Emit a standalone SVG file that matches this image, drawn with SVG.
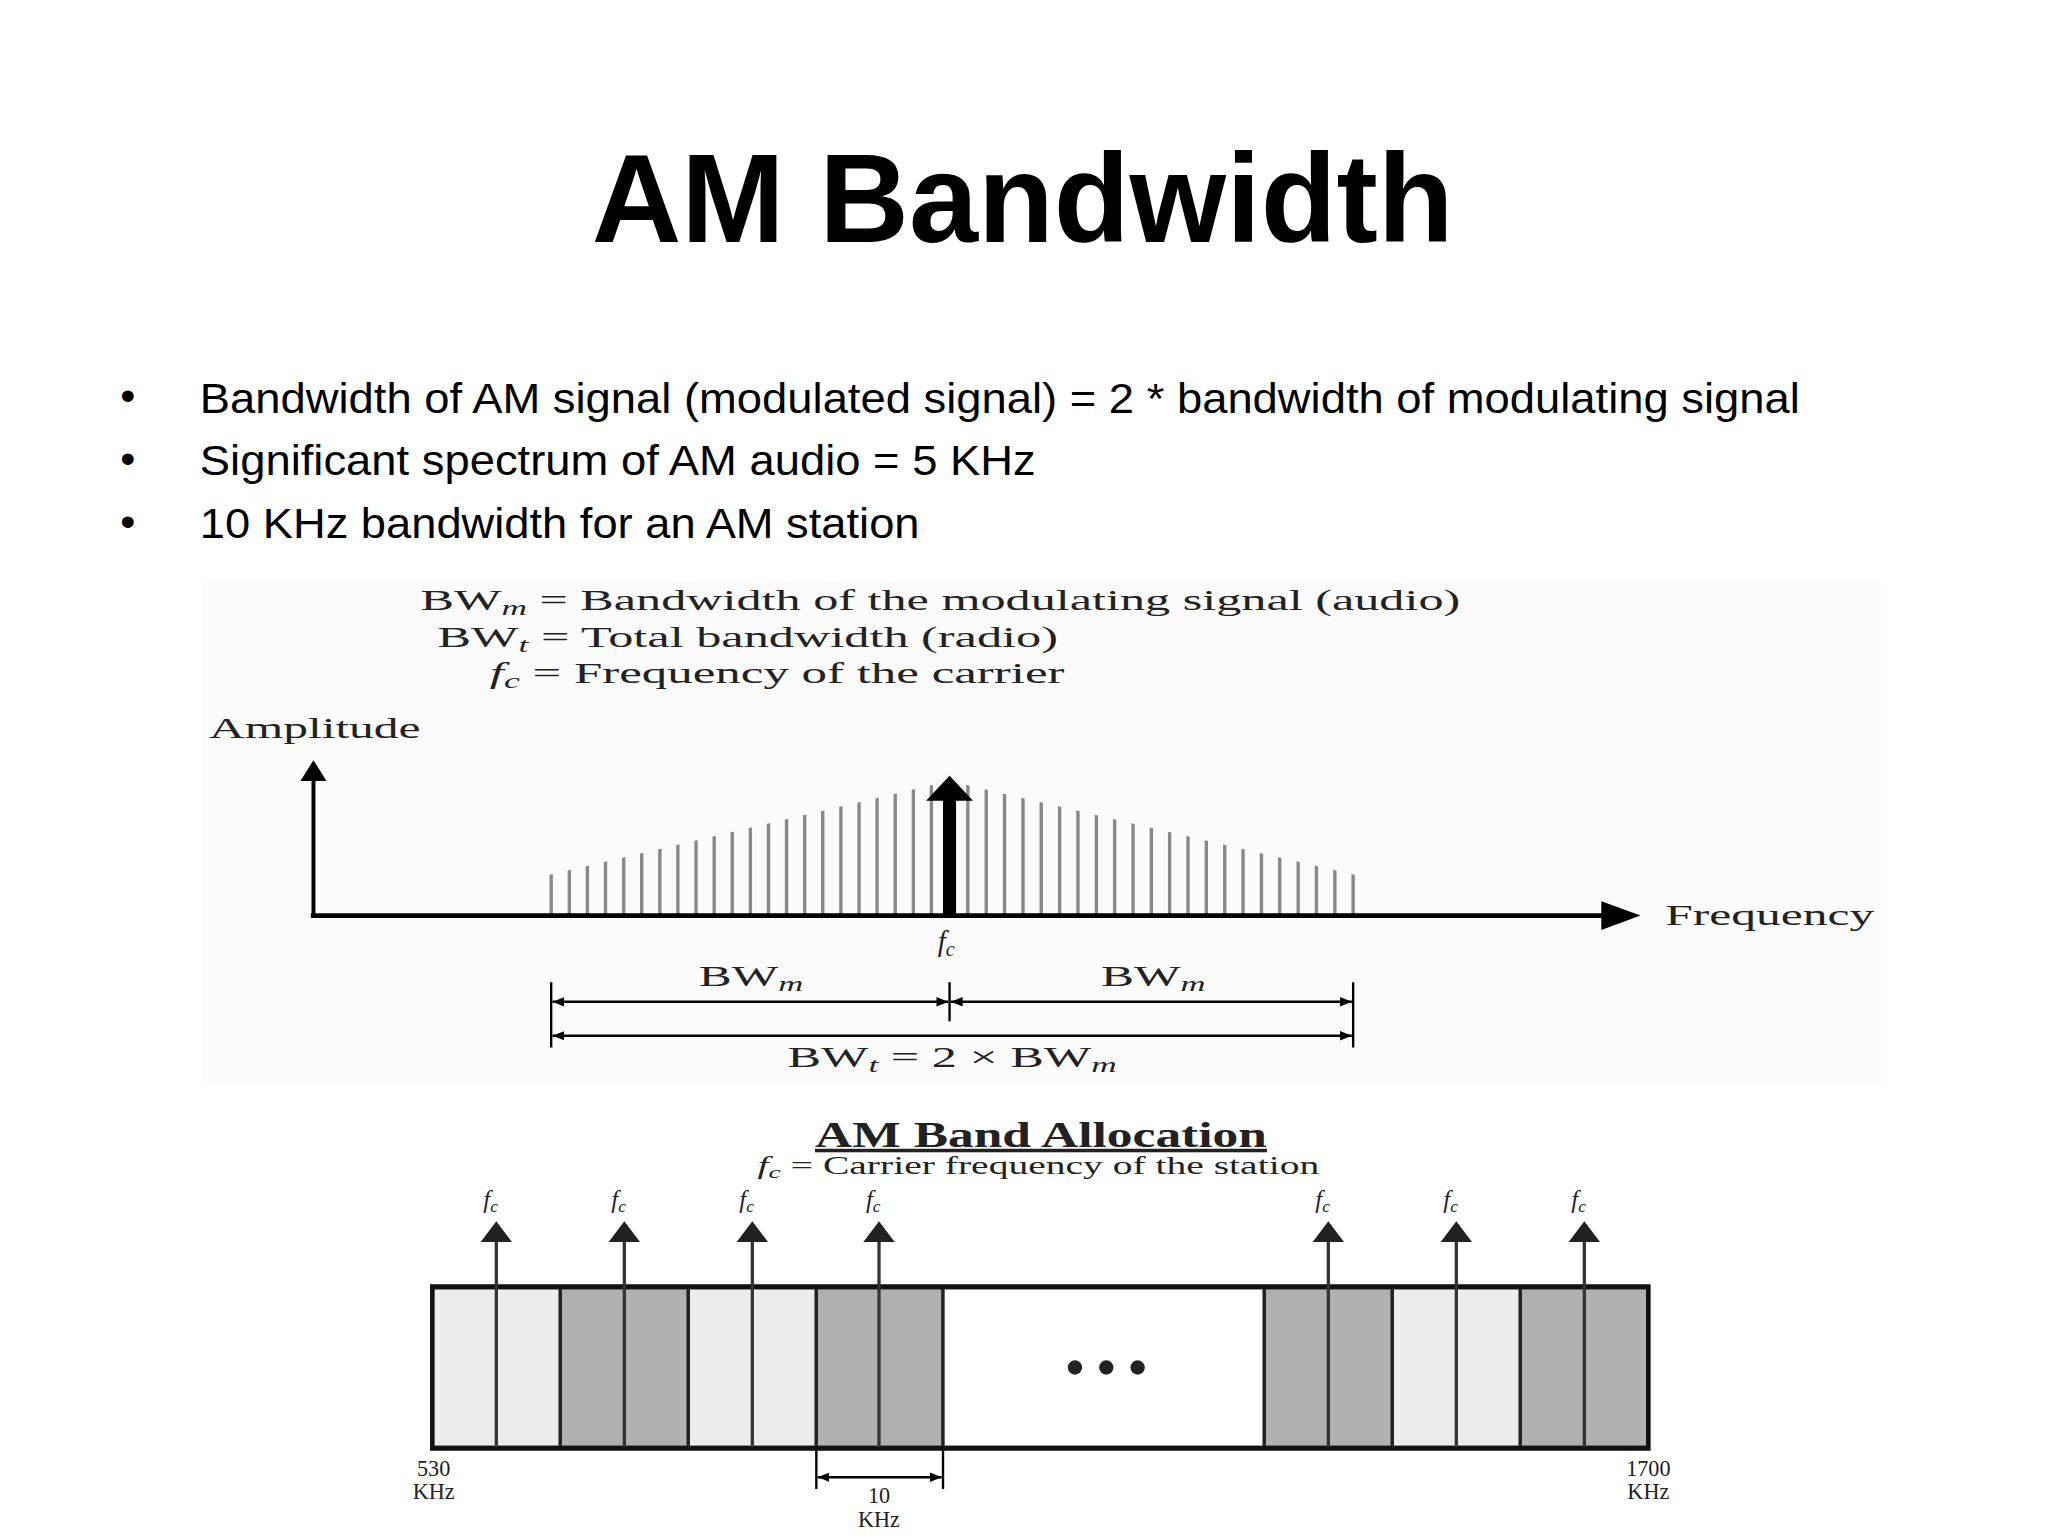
<svg xmlns="http://www.w3.org/2000/svg" width="2048" height="1536" viewBox="0 0 2048 1536">
<style>
.s{font-family:"Liberation Sans",Arial,sans-serif;fill:#000}
.r{font-family:"Liberation Serif","Times New Roman",serif;fill:#222}
.sub{font-size:70%;font-style:italic}
.sp{stroke:#888;stroke-width:2.6}
.k{stroke:#000;fill:none}
</style>
<defs>
<marker id="ah" viewBox="0 0 10 10" refX="10" refY="5" markerWidth="9" markerHeight="9" markerUnits="userSpaceOnUse" orient="auto-start-reverse"><path d="M0,1 L10,5 L0,9 z" fill="#000"/></marker>
<clipPath id="tri"><polygon points="420,670 727,598 1038,670 1038,702 420,702"/></clipPath>
</defs>
<rect width="2048" height="1536" fill="#fff"/>
<g transform="scale(1.306122)">
<g id="title"><text class="s" x="783" y="185" font-size="96" font-weight="bold" text-anchor="middle" textLength="660" lengthAdjust="spacingAndGlyphs">AM Bandwidth</text></g>
<g id="bullets" class="s" font-size="33">
<text x="92" y="314">•</text><text x="153" y="316" textLength="1225" lengthAdjust="spacingAndGlyphs">Bandwidth of AM signal (modulated signal) = 2 * bandwidth of modulating signal</text>
<text x="92" y="362">•</text><text x="153" y="364" textLength="640" lengthAdjust="spacingAndGlyphs">Significant spectrum of AM audio = 5 KHz</text>
<text x="92" y="410">•</text><text x="153" y="412" textLength="551" lengthAdjust="spacingAndGlyphs">10 KHz bandwidth for an AM station</text>
</g>
<g id="spectrum">
<rect x="155" y="445" width="1285" height="385" fill="#fbfbfb"/>
<g class="r" font-size="22">
<text x="322" y="467" textLength="796" lengthAdjust="spacingAndGlyphs">BW<tspan class="sub" dy="4">m</tspan><tspan dy="-4"> = Bandwidth of the modulating signal (audio)</tspan></text>
<text x="335" y="495" textLength="475" lengthAdjust="spacingAndGlyphs">BW<tspan class="sub" dy="4">t</tspan><tspan dy="-4"> = Total bandwidth (radio)</tspan></text>
<text x="375" y="523" textLength="440" lengthAdjust="spacingAndGlyphs"><tspan font-style="italic">f</tspan><tspan class="sub" dy="4">c</tspan><tspan dy="-4"> = Frequency of the carrier</tspan></text>
<text x="160" y="565" textLength="162" lengthAdjust="spacingAndGlyphs">Amplitude</text>
<text x="1275" y="708" textLength="160" lengthAdjust="spacingAndGlyphs">Frequency</text>
<text x="718" y="728" font-style="italic">f<tspan class="sub" dy="4">c</tspan></text>
<text x="535" y="755" textLength="80" lengthAdjust="spacingAndGlyphs">BW<tspan class="sub" dy="4">m</tspan></text>
<text x="843" y="755" textLength="80" lengthAdjust="spacingAndGlyphs">BW<tspan class="sub" dy="4">m</tspan></text>
<text x="603" y="817" textLength="252" lengthAdjust="spacingAndGlyphs">BW<tspan class="sub" dy="4">t</tspan><tspan dy="-4"> = 2 × BW</tspan><tspan class="sub" dy="4">m</tspan></text>
</g>
<g clip-path="url(#tri)" class="sp">
<path d="M422,600V701M435.9,600V701M449.7,600V701M463.6,600V701M477.5,600V701M491.3,600V701M505.2,600V701M519,600V701M532.9,600V701M546.8,600V701M560.6,600V701M574.5,600V701M588.4,600V701M602.2,600V701M616.1,600V701M629.9,600V701M643.8,600V701M657.7,600V701M671.5,600V701M685.4,600V701M699.3,600V701M713.1,600V701M741,600V701M755.1,600V701M769.1,600V701M783.2,600V701M797.2,600V701M811.3,600V701M825.3,600V701M839.4,600V701M853.4,600V701M867.5,600V701M881.5,600V701M895.5,600V701M909.6,600V701M923.6,600V701M937.7,600V701M951.7,600V701M965.8,600V701M979.8,600V701M993.9,600V701M1007.9,600V701M1022,600V701M1036,600V701"/>
</g>
<line x1="240" y1="701" x2="240" y2="596" stroke="#000" stroke-width="3"/>
<polygon points="230,598 250,598 240,582" fill="#000"/>
<line x1="238" y1="701" x2="1230" y2="701" stroke="#000" stroke-width="3.5"/>
<polygon points="1226,690 1256,701 1226,712" fill="#000"/>
<rect x="722" y="612" width="10" height="89" fill="#000"/>
<polygon points="709,613 745,613 727,594" fill="#000"/>
</g>
<g id="connectors" stroke="#000" stroke-width="1.8">
<line x1="422" y1="752" x2="422" y2="802"/>
<line x1="1036" y1="752" x2="1036" y2="802"/>
<line x1="727" y1="752" x2="727" y2="782"/>
<line x1="423" y1="767" x2="726" y2="767" marker-start="url(#ah)" marker-end="url(#ah)"/>
<line x1="728" y1="767" x2="1035" y2="767" marker-start="url(#ah)" marker-end="url(#ah)"/>
<line x1="423" y1="793" x2="1035" y2="793" marker-start="url(#ah)" marker-end="url(#ah)"/>
<line x1="625" y1="1108" x2="625" y2="1140"/>
<line x1="722" y1="1108" x2="722" y2="1140"/>
<line x1="626" y1="1131" x2="721" y2="1131" marker-start="url(#ah)" marker-end="url(#ah)"/>
</g>
<g id="allocation">
<g class="r">
<text x="797" y="878" font-size="27" font-weight="bold" text-anchor="middle" text-decoration="underline" textLength="346" lengthAdjust="spacingAndGlyphs">AM Band Allocation</text>
<text x="795" y="899" font-size="19" text-anchor="middle" textLength="430" lengthAdjust="spacingAndGlyphs"><tspan font-style="italic">f</tspan><tspan class="sub" dy="3">c</tspan><tspan dy="-3"> = Carrier frequency of the station</tspan></text>
</g>
<g stroke="#222" stroke-width="2.5">
<rect x="331" y="986" width="98" height="122" fill="#ececec"/>
<rect x="429" y="986" width="98" height="122" fill="#b0b0b0"/>
<rect x="527" y="986" width="98" height="122" fill="#ececec"/>
<rect x="625" y="986" width="97" height="122" fill="#b0b0b0"/>
<rect x="722" y="986" width="246" height="122" fill="#fff"/>
<rect x="968" y="986" width="98" height="122" fill="#b0b0b0"/>
<rect x="1066" y="986" width="98" height="122" fill="#ececec"/>
<rect x="1164" y="986" width="98" height="122" fill="#b0b0b0"/>
</g>
<rect x="331" y="985" width="931" height="124" fill="none" stroke="#111" stroke-width="3.5"/>
<g stroke="#333" stroke-width="2.5">
<path d="M380,1108V948M478,1108V948M576,1108V948M673,1108V948M1017,1108V948M1115,1108V948M1213,1108V948"/>
</g>
<g fill="#222">
<polygon points="368,951 392,951 380,935"/><polygon points="466,951 490,951 478,935"/><polygon points="564,951 588,951 576,935"/><polygon points="661,951 685,951 673,935"/><polygon points="1005,951 1029,951 1017,935"/><polygon points="1103,951 1127,951 1115,935"/><polygon points="1201,951 1225,951 1213,935"/>
<circle cx="823" cy="1047" r="5.5"/><circle cx="847" cy="1047" r="5.5"/><circle cx="871" cy="1047" r="5.5"/>
</g>
<g class="r" font-size="19" font-style="italic" fill="#555">
<text x="370" y="925">f<tspan class="sub" dy="3">c</tspan></text>
<text x="468" y="925">f<tspan class="sub" dy="3">c</tspan></text>
<text x="566" y="925">f<tspan class="sub" dy="3">c</tspan></text>
<text x="663" y="925">f<tspan class="sub" dy="3">c</tspan></text>
<text x="1007" y="925">f<tspan class="sub" dy="3">c</tspan></text>
<text x="1105" y="925">f<tspan class="sub" dy="3">c</tspan></text>
<text x="1203" y="925">f<tspan class="sub" dy="3">c</tspan></text>
</g>
<g class="r" font-size="17" text-anchor="middle">
<text x="332" y="1130">530</text><text x="332" y="1148">KHz</text>
<text x="1262" y="1130">1700</text><text x="1262" y="1148">KHz</text>
<text x="673" y="1151">10</text><text x="673" y="1169">KHz</text>
</g>
</g>
</g>
</svg>
